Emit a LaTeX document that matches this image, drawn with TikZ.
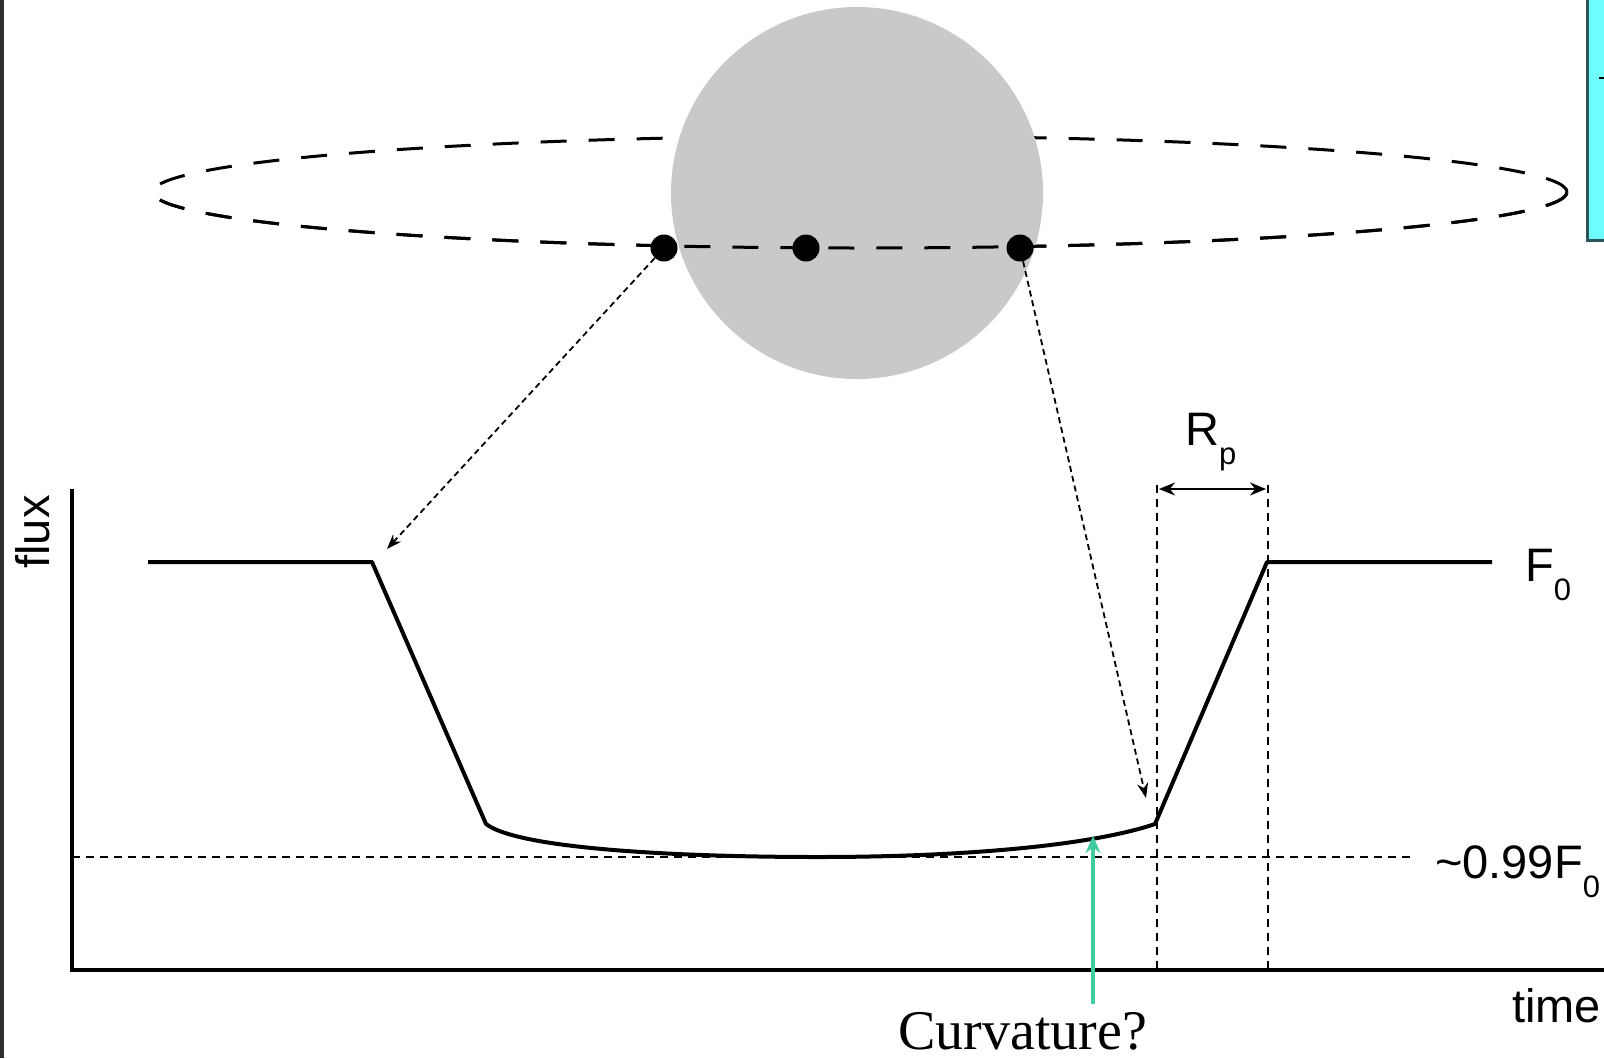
\documentclass[tikz,border=0pt]{standalone}
\usepackage{fontspec}
\setmainfont{Liberation Sans}
\newfontfamily\seriffont{Liberation Serif}
\usetikzlibrary{arrows.meta}
\definecolor{stargray}{RGB}{200,201,203}
\definecolor{boxcyan}{RGB}{110,252,252}
\definecolor{boxedge}{RGB}{45,85,88}
\definecolor{curvgreen}{RGB}{64,204,160}
\newcommand{\lowsub}[1]{\raisebox{-19pt}{\fontsize{31}{31}\selectfont #1}}
\begin{document}
\begin{tikzpicture}[x=1pt,y=-1pt,
  orbit/.style={line width=3pt, dash pattern=on 26pt off 22pt},
  lightcurve/.style={line width=4pt, line join=round},
  axisline/.style={line width=4pt},
  guide/.style={line width=1.3pt, dash pattern=on 8pt off 6pt},
  pointer/.style={line width=1.8pt, dash pattern=on 6pt off 4pt, -{Stealth[length=15pt,width=11pt]}},
  dot/.style={circle, fill=black, inner sep=0pt, minimum size=27pt},
  lab/.style={font=\fontsize{47}{47}\selectfont, inner sep=0pt},
]
\useasboundingbox (0,0) rectangle (1604,1058);
\clip (0,0) rectangle (1604,1058);
\fill[white] (0,0) rectangle (1604,1058);
% left dark strip
\fill[black!82] (0,0) rectangle (4,1058);
% cyan box (clipped at right)
\draw[fill=boxcyan, draw=boxedge, line width=3pt] (1587,-10) rectangle (1640,240);
\draw[line width=1.5pt] (1599,78) -- (1606,78);

% orbit and star
\draw[orbit] (860,192) ellipse [x radius=707pt, y radius=56pt];
\node[circle, fill=stargray, inner sep=0pt, minimum size=372pt] (star) at (857,193) {};
\begin{scope}
  \clip (0,192) rectangle (1604,400);
  \draw[orbit] (860,192) ellipse [x radius=707pt, y radius=56pt];
\end{scope}
\node[dot] (d1) at (664,248) {};
\node[dot] (d2) at (806,248) {};
\node[dot] (d3) at (1020,248) {};

% axes
\coordinate (o) at (72,970);
\coordinate (ytop) at (72,489);
\coordinate (xend) at (1610,970);
\draw[axisline] (ytop) -- (o) -- (xend);

% reference lines
\coordinate (h1) at (72,857);
\coordinate (h2) at (1412,857);
\draw[guide] (h1) -- (h2);
\coordinate (v1t) at (1157,485);
\coordinate (v1b) at (1157,970);
\coordinate (v2t) at (1268,485);
\coordinate (v2b) at (1268,970);
\draw[guide] (v1t) -- (v1b);
\draw[guide] (v2t) -- (v2b);

% light curve
\coordinate (c0) at (148,562);
\coordinate (c1) at (372,562);
\coordinate (c2) at (486,824);
\coordinate (c3) at (818,857);
\coordinate (c4) at (1155,824);
\coordinate (c5) at (1267,562);
\coordinate (c6) at (1492,562);
\draw[lightcurve] (c0) -- (c1) -- (c2)
  .. controls (520,850) and (690,857) .. (c3)
  .. controls (960,857) and (1090,846) .. (c4) -- (c5) -- (c6);

% Rp arrow
\coordinate (rpa) at (1159,489);
\coordinate (rpb) at (1266,489);
\draw[line width=2pt, {Stealth[length=16pt,width=13pt]}-{Stealth[length=16pt,width=13pt]}] (rpa) -- (rpb);

% pointers from planet positions
\coordinate (p1) at (387,549);
\coordinate (p3) at (1146,798);
\draw[pointer] (d1) -- (p1);
\draw[pointer] (d3) -- (p3);

% curvature arrow
\coordinate (g0) at (1093,1004);
\coordinate (g1) at (1093,836);
\draw[curvgreen, line width=4pt, -{Stealth[length=17pt,width=15pt]}] (g0) -- (g1);

% labels
\node[lab, anchor=base west] (rplab) at (1185,445) {R\lowsub{p}};
\node[lab, anchor=base west] (f0lab) at (1525,581) {F\lowsub{0}};
\node[lab, anchor=base west] (f99lab) at (1435,878) {\char"7E\relax 0.99F\lowsub{0}};
\node[lab, anchor=base west] (timelab) at (1512,1022) {time};
\node[lab, rotate=90] (fluxlab) at (33,532) {flux};
\node[font=\seriffont\fontsize{56}{56}\selectfont, inner sep=0pt, anchor=base west] (curvlab) at (898,1049) {Curvature?};
\end{tikzpicture}
\end{document}
